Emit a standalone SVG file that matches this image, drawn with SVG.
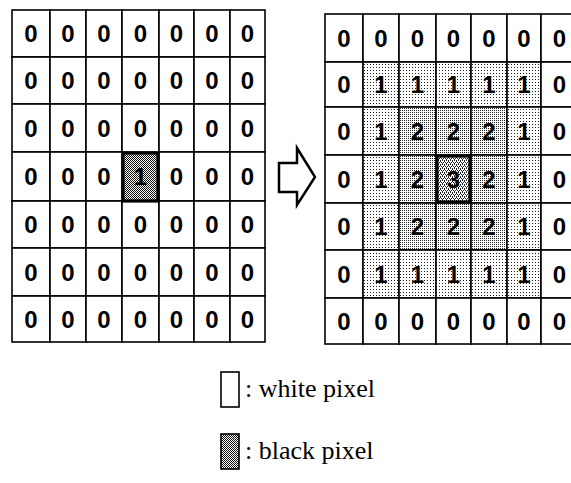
<svg xmlns="http://www.w3.org/2000/svg" width="571" height="483" viewBox="0 0 571 483">
<defs>
<pattern id="s1" width="3" height="3" patternUnits="userSpaceOnUse"><rect width="3" height="3" fill="#fff"/><rect x="1" y="1" width="1" height="1" fill="#222"/></pattern>
<pattern id="s2" width="2" height="2" patternUnits="userSpaceOnUse"><rect width="2" height="2" fill="#fff"/><rect x="0" y="0" width="1" height="1" fill="#222"/></pattern>
<pattern id="s3" width="4" height="4" patternUnits="userSpaceOnUse"><rect width="4" height="4" fill="#fff"/><rect x="0" y="0" width="1" height="1" fill="#222"/><rect x="2" y="0" width="1" height="1" fill="#222"/><rect x="1" y="2" width="1" height="1" fill="#222"/><rect x="3" y="2" width="1" height="1" fill="#222"/><rect x="0" y="1" width="1" height="1" fill="#222"/><rect x="2" y="3" width="1" height="1" fill="#222"/></pattern>
<pattern id="s4" width="2" height="2" patternUnits="userSpaceOnUse"><rect width="2" height="2" fill="#fff"/><rect x="0" y="0" width="1" height="1" fill="#111"/><rect x="1" y="1" width="1" height="1" fill="#111"/></pattern>
</defs>
<style>
.c{stroke:#000;stroke-width:1.6;fill:#fff}
.a{fill:url(#s1)}.b{fill:url(#s2)}.m{fill:url(#s3)}.k{fill:url(#s4)}
.t{stroke:#000;stroke-width:3.2}
.d{font-family:"Liberation Sans",Arial,sans-serif;font-weight:bold;font-size:24px;text-anchor:middle;fill:#000}
.lg{font-family:"Liberation Serif","Times New Roman",serif;font-size:26px;fill:#000}
.arrow{fill:#fff;stroke:#000;stroke-width:2.5;stroke-linejoin:miter}
</style>
<rect width="571" height="483" fill="#fff"/>
<g id="left-grid">
<g id="L00"><rect class="c" x="12" y="10" width="38" height="47"/><text class="d" x="31" y="42">0</text></g>
<g id="L01"><rect class="c" x="50" y="10" width="36" height="47"/><text class="d" x="68" y="42">0</text></g>
<g id="L02"><rect class="c" x="86" y="10" width="36" height="47"/><text class="d" x="104" y="42">0</text></g>
<g id="L03"><rect class="c" x="122" y="10" width="37" height="47"/><text class="d" x="140.5" y="42">0</text></g>
<g id="L04"><rect class="c" x="159" y="10" width="35" height="47"/><text class="d" x="176.5" y="42">0</text></g>
<g id="L05"><rect class="c" x="194" y="10" width="36" height="47"/><text class="d" x="212" y="42">0</text></g>
<g id="L06"><rect class="c" x="230" y="10" width="35" height="47"/><text class="d" x="247.5" y="42">0</text></g>
<g id="L10"><rect class="c" x="12" y="57" width="38" height="47"/><text class="d" x="31" y="89">0</text></g>
<g id="L11"><rect class="c" x="50" y="57" width="36" height="47"/><text class="d" x="68" y="89">0</text></g>
<g id="L12"><rect class="c" x="86" y="57" width="36" height="47"/><text class="d" x="104" y="89">0</text></g>
<g id="L13"><rect class="c" x="122" y="57" width="37" height="47"/><text class="d" x="140.5" y="89">0</text></g>
<g id="L14"><rect class="c" x="159" y="57" width="35" height="47"/><text class="d" x="176.5" y="89">0</text></g>
<g id="L15"><rect class="c" x="194" y="57" width="36" height="47"/><text class="d" x="212" y="89">0</text></g>
<g id="L16"><rect class="c" x="230" y="57" width="35" height="47"/><text class="d" x="247.5" y="89">0</text></g>
<g id="L20"><rect class="c" x="12" y="104" width="38" height="48"/><text class="d" x="31" y="136.5">0</text></g>
<g id="L21"><rect class="c" x="50" y="104" width="36" height="48"/><text class="d" x="68" y="136.5">0</text></g>
<g id="L22"><rect class="c" x="86" y="104" width="36" height="48"/><text class="d" x="104" y="136.5">0</text></g>
<g id="L23"><rect class="c" x="122" y="104" width="37" height="48"/><text class="d" x="140.5" y="136.5">0</text></g>
<g id="L24"><rect class="c" x="159" y="104" width="35" height="48"/><text class="d" x="176.5" y="136.5">0</text></g>
<g id="L25"><rect class="c" x="194" y="104" width="36" height="48"/><text class="d" x="212" y="136.5">0</text></g>
<g id="L26"><rect class="c" x="230" y="104" width="35" height="48"/><text class="d" x="247.5" y="136.5">0</text></g>
<g id="L30"><rect class="c" x="12" y="152" width="38" height="49"/><text class="d" x="31" y="185">0</text></g>
<g id="L31"><rect class="c" x="50" y="152" width="36" height="49"/><text class="d" x="68" y="185">0</text></g>
<g id="L32"><rect class="c" x="86" y="152" width="36" height="49"/><text class="d" x="104" y="185">0</text></g>
<g id="L34"><rect class="c" x="159" y="152" width="35" height="49"/><text class="d" x="176.5" y="185">0</text></g>
<g id="L35"><rect class="c" x="194" y="152" width="36" height="49"/><text class="d" x="212" y="185">0</text></g>
<g id="L36"><rect class="c" x="230" y="152" width="35" height="49"/><text class="d" x="247.5" y="185">0</text></g>
<g id="L40"><rect class="c" x="12" y="201" width="38" height="47"/><text class="d" x="31" y="233">0</text></g>
<g id="L41"><rect class="c" x="50" y="201" width="36" height="47"/><text class="d" x="68" y="233">0</text></g>
<g id="L42"><rect class="c" x="86" y="201" width="36" height="47"/><text class="d" x="104" y="233">0</text></g>
<g id="L43"><rect class="c" x="122" y="201" width="37" height="47"/><text class="d" x="140.5" y="233">0</text></g>
<g id="L44"><rect class="c" x="159" y="201" width="35" height="47"/><text class="d" x="176.5" y="233">0</text></g>
<g id="L45"><rect class="c" x="194" y="201" width="36" height="47"/><text class="d" x="212" y="233">0</text></g>
<g id="L46"><rect class="c" x="230" y="201" width="35" height="47"/><text class="d" x="247.5" y="233">0</text></g>
<g id="L50"><rect class="c" x="12" y="248" width="38" height="48"/><text class="d" x="31" y="280.5">0</text></g>
<g id="L51"><rect class="c" x="50" y="248" width="36" height="48"/><text class="d" x="68" y="280.5">0</text></g>
<g id="L52"><rect class="c" x="86" y="248" width="36" height="48"/><text class="d" x="104" y="280.5">0</text></g>
<g id="L53"><rect class="c" x="122" y="248" width="37" height="48"/><text class="d" x="140.5" y="280.5">0</text></g>
<g id="L54"><rect class="c" x="159" y="248" width="35" height="48"/><text class="d" x="176.5" y="280.5">0</text></g>
<g id="L55"><rect class="c" x="194" y="248" width="36" height="48"/><text class="d" x="212" y="280.5">0</text></g>
<g id="L56"><rect class="c" x="230" y="248" width="35" height="48"/><text class="d" x="247.5" y="280.5">0</text></g>
<g id="L60"><rect class="c" x="12" y="296" width="38" height="46"/><text class="d" x="31" y="327.5">0</text></g>
<g id="L61"><rect class="c" x="50" y="296" width="36" height="46"/><text class="d" x="68" y="327.5">0</text></g>
<g id="L62"><rect class="c" x="86" y="296" width="36" height="46"/><text class="d" x="104" y="327.5">0</text></g>
<g id="L63"><rect class="c" x="122" y="296" width="37" height="46"/><text class="d" x="140.5" y="327.5">0</text></g>
<g id="L64"><rect class="c" x="159" y="296" width="35" height="46"/><text class="d" x="176.5" y="327.5">0</text></g>
<g id="L65"><rect class="c" x="194" y="296" width="36" height="46"/><text class="d" x="212" y="327.5">0</text></g>
<g id="L66"><rect class="c" x="230" y="296" width="35" height="46"/><text class="d" x="247.5" y="327.5">0</text></g>
<g id="L33"><rect class="c k t" x="123" y="153" width="35" height="48"/><text class="d" x="140.5" y="185">1</text></g>
</g>
<g id="connectors">
<path id="arrow" class="arrow" d="M279,163 H297 V148 L315,177 L297,205 V192 H279 Z"/>
</g>
<g id="right-grid">
<g id="R00"><rect class="c" x="325" y="14" width="38" height="48"/><text class="d" x="344" y="46.5">0</text></g>
<g id="R01"><rect class="c" x="363" y="14" width="36" height="48"/><text class="d" x="381" y="46.5">0</text></g>
<g id="R02"><rect class="c" x="399" y="14" width="37" height="48"/><text class="d" x="417.5" y="46.5">0</text></g>
<g id="R03"><rect class="c" x="436" y="14" width="35" height="48"/><text class="d" x="453.5" y="46.5">0</text></g>
<g id="R04"><rect class="c" x="471" y="14" width="36" height="48"/><text class="d" x="489" y="46.5">0</text></g>
<g id="R05"><rect class="c" x="507" y="14" width="34" height="48"/><text class="d" x="524" y="46.5">0</text></g>
<g id="R06"><rect class="c" x="541" y="14" width="37" height="48"/><text class="d" x="559.5" y="46.5">0</text></g>
<g id="R10"><rect class="c" x="325" y="62" width="38" height="45"/><text class="d" x="344" y="93">0</text></g>
<g id="R11"><rect class="c a" x="363" y="62" width="36" height="45"/><text class="d" x="381" y="93">1</text></g>
<g id="R12"><rect class="c a" x="399" y="62" width="37" height="45"/><text class="d" x="417.5" y="93">1</text></g>
<g id="R13"><rect class="c a" x="436" y="62" width="35" height="45"/><text class="d" x="453.5" y="93">1</text></g>
<g id="R14"><rect class="c a" x="471" y="62" width="36" height="45"/><text class="d" x="489" y="93">1</text></g>
<g id="R15"><rect class="c a" x="507" y="62" width="34" height="45"/><text class="d" x="524" y="93">1</text></g>
<g id="R16"><rect class="c" x="541" y="62" width="37" height="45"/><text class="d" x="559.5" y="93">0</text></g>
<g id="R20"><rect class="c" x="325" y="107" width="38" height="48"/><text class="d" x="344" y="139.5">0</text></g>
<g id="R21"><rect class="c a" x="363" y="107" width="36" height="48"/><text class="d" x="381" y="139.5">1</text></g>
<g id="R22"><rect class="c b" x="399" y="107" width="37" height="48"/><text class="d" x="417.5" y="139.5">2</text></g>
<g id="R23"><rect class="c b" x="436" y="107" width="35" height="48"/><text class="d" x="453.5" y="139.5">2</text></g>
<g id="R24"><rect class="c b" x="471" y="107" width="36" height="48"/><text class="d" x="489" y="139.5">2</text></g>
<g id="R25"><rect class="c a" x="507" y="107" width="34" height="48"/><text class="d" x="524" y="139.5">1</text></g>
<g id="R26"><rect class="c" x="541" y="107" width="37" height="48"/><text class="d" x="559.5" y="139.5">0</text></g>
<g id="R30"><rect class="c" x="325" y="155" width="38" height="48"/><text class="d" x="344" y="187.5">0</text></g>
<g id="R31"><rect class="c a" x="363" y="155" width="36" height="48"/><text class="d" x="381" y="187.5">1</text></g>
<g id="R32"><rect class="c b" x="399" y="155" width="37" height="48"/><text class="d" x="417.5" y="187.5">2</text></g>
<g id="R34"><rect class="c b" x="471" y="155" width="36" height="48"/><text class="d" x="489" y="187.5">2</text></g>
<g id="R35"><rect class="c a" x="507" y="155" width="34" height="48"/><text class="d" x="524" y="187.5">1</text></g>
<g id="R36"><rect class="c" x="541" y="155" width="37" height="48"/><text class="d" x="559.5" y="187.5">0</text></g>
<g id="R40"><rect class="c" x="325" y="203" width="38" height="47"/><text class="d" x="344" y="235">0</text></g>
<g id="R41"><rect class="c a" x="363" y="203" width="36" height="47"/><text class="d" x="381" y="235">1</text></g>
<g id="R42"><rect class="c b" x="399" y="203" width="37" height="47"/><text class="d" x="417.5" y="235">2</text></g>
<g id="R43"><rect class="c b" x="436" y="203" width="35" height="47"/><text class="d" x="453.5" y="235">2</text></g>
<g id="R44"><rect class="c b" x="471" y="203" width="36" height="47"/><text class="d" x="489" y="235">2</text></g>
<g id="R45"><rect class="c a" x="507" y="203" width="34" height="47"/><text class="d" x="524" y="235">1</text></g>
<g id="R46"><rect class="c" x="541" y="203" width="37" height="47"/><text class="d" x="559.5" y="235">0</text></g>
<g id="R50"><rect class="c" x="325" y="250" width="38" height="48"/><text class="d" x="344" y="282.5">0</text></g>
<g id="R51"><rect class="c a" x="363" y="250" width="36" height="48"/><text class="d" x="381" y="282.5">1</text></g>
<g id="R52"><rect class="c a" x="399" y="250" width="37" height="48"/><text class="d" x="417.5" y="282.5">1</text></g>
<g id="R53"><rect class="c a" x="436" y="250" width="35" height="48"/><text class="d" x="453.5" y="282.5">1</text></g>
<g id="R54"><rect class="c a" x="471" y="250" width="36" height="48"/><text class="d" x="489" y="282.5">1</text></g>
<g id="R55"><rect class="c a" x="507" y="250" width="34" height="48"/><text class="d" x="524" y="282.5">1</text></g>
<g id="R56"><rect class="c" x="541" y="250" width="37" height="48"/><text class="d" x="559.5" y="282.5">0</text></g>
<g id="R60"><rect class="c" x="325" y="298" width="38" height="46"/><text class="d" x="344" y="329.5">0</text></g>
<g id="R61"><rect class="c" x="363" y="298" width="36" height="46"/><text class="d" x="381" y="329.5">0</text></g>
<g id="R62"><rect class="c" x="399" y="298" width="37" height="46"/><text class="d" x="417.5" y="329.5">0</text></g>
<g id="R63"><rect class="c" x="436" y="298" width="35" height="46"/><text class="d" x="453.5" y="329.5">0</text></g>
<g id="R64"><rect class="c" x="471" y="298" width="36" height="46"/><text class="d" x="489" y="329.5">0</text></g>
<g id="R65"><rect class="c" x="507" y="298" width="34" height="46"/><text class="d" x="524" y="329.5">0</text></g>
<g id="R66"><rect class="c" x="541" y="298" width="37" height="46"/><text class="d" x="559.5" y="329.5">0</text></g>
<g id="R33"><rect class="c m t" x="437" y="156" width="33" height="46"/><text class="d" x="453.5" y="187.5">3</text></g>
</g>
<g id="legend-white"><rect class="c" x="221" y="372" width="18" height="35"/><text class="lg" x="245" y="397">: white pixel</text></g>
<g id="legend-black"><rect class="c k" x="221" y="434" width="18" height="35"/><text class="lg" x="245" y="459">: black pixel</text></g>
</svg>
